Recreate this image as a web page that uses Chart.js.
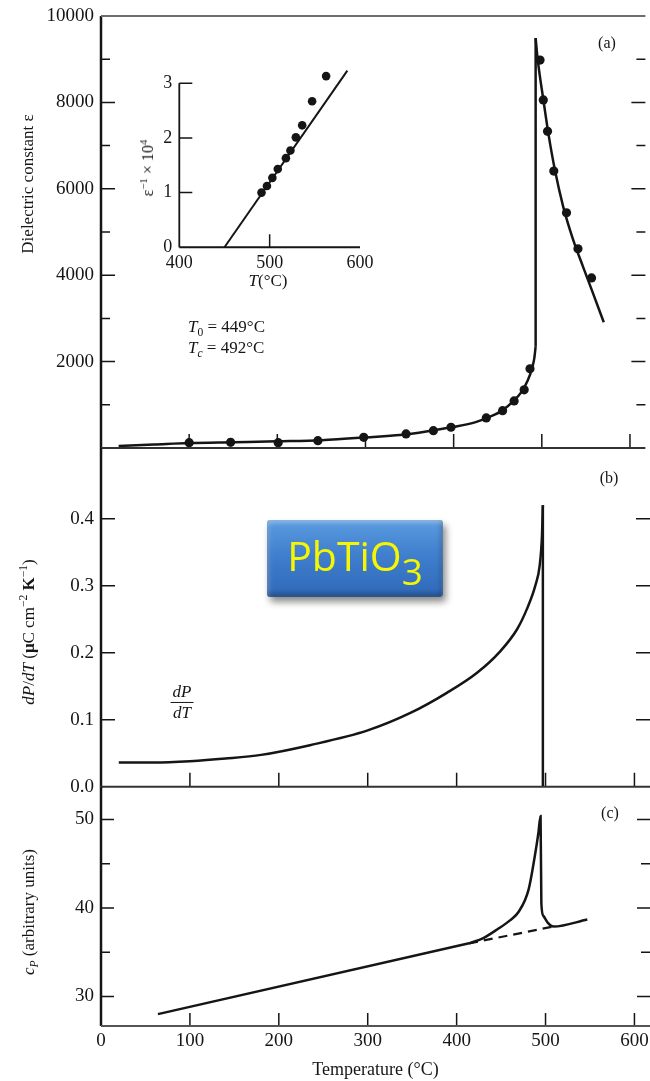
<!DOCTYPE html>
<html>
<head>
<meta charset="utf-8">
<script src="https://cdn.jsdelivr.net/npm/chart.js@4.4.2/dist/chart.umd.min.js"></script>
<style>
  html, body { margin: 0; padding: 0; background: #fff; overflow: hidden; }
  #wrap { position: relative; width: 650px; height: 1081px; font-family: "Liberation Serif", "DejaVu Serif", serif; color: #151515; }
  canvas { position: absolute; }
  .t { position: absolute; white-space: nowrap; line-height: 1; }
  .rot { transform: translate(-50%, -50%) rotate(-90deg); }
  .mid { transform: translate(-50%, -50%); }
  .t sub, .t sup { font-size: 0.68em; line-height: 0; }
  #badge {
    position: absolute; left: 267px; top: 520px; width: 176px; height: 77px; box-sizing: border-box;
    background: linear-gradient(#5c9ce0, #3f7fcd 45%, #2f69b8);
    border-radius: 3px;
    box-shadow: 3px 5px 7px rgba(0, 0, 0, 0.45), inset 0 3px 4px rgba(255, 255, 255, 0.3), inset 0 -4px 5px rgba(0, 0, 0, 0.25), inset 3px 0 4px rgba(255, 255, 255, 0.15), inset -3px 0 4px rgba(0, 0, 0, 0.15);
    color: #f6f600; font-family: "Open Sans", sans-serif; font-size: 41px;
    display: flex; align-items: center; justify-content: center; padding-bottom: 6px;
  }
  #badge span { line-height: 1; white-space: nowrap; }
  #badge sub { font-size: 0.9em; vertical-align: -0.38em; line-height: 0; }
  .frac { position: absolute; left: 182px; top: 702px; transform: translate(-50%, -50%); text-align: center; font-style: italic; font-size: 17px; line-height: 1.15; }
  .frac span { display: block; padding: 0 2px; }
  .frac span + span { border-top: 1.3px solid #151515; }
</style>
</head>
<body>
<div id="wrap">
  <canvas id="panelA" width="650" height="470" style="left:0;top:0"></canvas>
  <canvas id="panelB" width="650" height="380" style="left:0;top:430px"></canvas>
  <canvas id="panelC" width="650" height="311" style="left:0;top:770px"></canvas>
  <canvas id="inset" width="260" height="250" style="left:120px;top:50px"></canvas>

  <div class="t rot" style="left:27px;top:184px;font-size:17px">Dielectric constant ε</div>
  <div class="t rot" style="left:28px;top:632px;font-size:17px"><i>dP</i>/<i>dT</i> (<b>μ</b>C cm<sup>−2</sup> <b>K</b><sup>−1</sup>)</div>
  <div class="t rot" style="left:28px;top:912px;font-size:17px"><i>c</i><sub><i>P</i></sub> (arbitrary units)</div>

  <div class="t rot" style="left:148px;top:168px;font-size:16px">ε<sup>−1</sup> × 10<sup>4</sup></div>
  <div class="t mid" style="left:268px;top:280px;font-size:17px"><i>T</i>(°C)</div>

  <div class="t" style="left:188px;top:318px;font-size:17px"><i>T</i><sub>0</sub> = 449°C</div>
  <div class="t" style="left:188px;top:339px;font-size:17px"><i>T</i><sub><i>c</i></sub> = 492°C</div>

  <div class="t mid" style="left:607px;top:43px;font-size:16px">(a)</div>
  <div class="t mid" style="left:609px;top:478px;font-size:16px">(b)</div>
  <div class="t mid" style="left:610px;top:813px;font-size:16px">(c)</div>

  <div class="frac"><span>dP</span><span>dT</span></div>
  <div id="badge"><span>PbTiO<sub>3</sub></span></div>
</div>

<script>
const temperatureTicks = [0, 100, 200, 300, 400, 500, 600];

// (a) dielectric constant
const epsTicks = [1000, 2000, 3000, 4000, 5000, 6000, 7000, 8000, 9000, 10000];
const epsTickLabels = ['', '2000', '', '4000', '', '6000', '', '8000', '', '10000'];
const epsLowT = [20, 60, 100, 150, 200, 250, 300, 350, 400, 425, 440, 455, 468, 477, 484, 489, 491.5, 493];
const epsLowV = [46, 80, 115, 135, 155, 180, 245, 325, 490, 600, 715, 865, 1090, 1300, 1560, 1850, 2080, 2350];
const epsHighT = [493, 495.3, 501.7, 507.3, 514.7, 524.1, 535.4, 546.7, 557.9, 570.3];
const epsHighV = [9490, 9000, 8070, 7300, 6450, 5600, 4830, 4200, 3590, 2910];
const epsPointT = [100, 147, 201, 246, 298, 346, 377, 397, 437, 455.5, 468.6, 480, 486.6, 498, 501.7, 506.5, 513.6, 528, 541, 556.4];
const epsPointV = [123, 132, 123, 169, 248, 325, 401, 480, 696, 865, 1090, 1346, 1833, 8980, 8058, 7331, 6410, 5446, 4611, 3938];

// inset: inverse dielectric constant
const invTicks = [0, 1, 2, 3];
const invTempTicks = [400, 500, 600];
const invPointT = [491, 497, 503, 509, 518, 523, 529, 536, 547, 562.5];
const invPointV = [1.00, 1.12, 1.27, 1.43, 1.63, 1.77, 2.01, 2.23, 2.67, 3.13];
const invFitT = [450, 586];
const invFitV = [0, 3.23];

// (b) pyroelectric coefficient
const dpTicks = [0, 0.1, 0.2, 0.3, 0.4];
const dpT = [20, 60, 100, 140, 180, 235, 300, 348, 389, 423, 449, 468, 479, 488.5, 493.4, 496, 497];
const dpV = [0.036, 0.036, 0.038, 0.042, 0.0475, 0.062, 0.084, 0.110, 0.14, 0.17, 0.202, 0.235, 0.265, 0.30, 0.33, 0.375, 0.42];
const dpDropT = [497, 497];
const dpDropV = [0.42, 0];

// (c) specific heat
const cpTicks = [30, 35, 40, 45, 50];
const cpTickLabels = ['30', '', '40', '', '50'];
const cpBaseT = [64, 414];
const cpBaseV = [28.0, 36.0];
const cpDashT = [414, 509];
const cpDashV = [36.0, 37.9];
const cpPeakT = [414, 430, 446, 460, 470, 481, 488, 492, 494.4, 495.3, 497.6, 502.4, 509, 547];
const cpPeakV = [36.0, 36.6, 37.6, 38.6, 39.6, 42.1, 45.9, 48.5, 50.4, 40.5, 39.1, 38.35, 37.9, 38.7];

const serif = '"Liberation Serif", "DejaVu Serif", serif';
const ink = '#151515';
const points = (xs, ys) => xs.map((x, i) => ({x: x, y: ys[i]}));

const frame = {
  id: 'frame',
  afterDatasetsDraw(chart, args, opts) {
    const {ctx, chartArea: area, scales: {x, y}} = chart;
    const axisTop = y.getPixelForValue(opts.axisTop ?? y.max);
    const axisRight = x.getPixelForValue(opts.axisRight ?? x.max);
    ctx.save();
    ctx.strokeStyle = ink;
    ctx.lineWidth = 1.5;
    ctx.beginPath();
    x.ticks.forEach(t => {
      if (t.value <= x.min || t.value >= x.max) return;
      const px = x.getPixelForValue(t.value);
      ctx.moveTo(px, area.bottom);
      ctx.lineTo(px, area.bottom - opts.long);
    });
    y.ticks.forEach(t => {
      if (t.value <= y.min || t.value >= y.max) return;
      const py = y.getPixelForValue(t.value);
      const len = t.label === '' ? opts.short : opts.long;
      ctx.moveTo(area.left, py);
      ctx.lineTo(area.left + len, py);
      if (opts.right) {
        ctx.moveTo(area.right, py);
        ctx.lineTo(area.right - len, py);
      }
    });
    ctx.stroke();

    ctx.lineWidth = opts.axisWidth || 2;
    ctx.beginPath();
    ctx.moveTo(area.left, axisTop);
    ctx.lineTo(area.left, area.bottom);
    ctx.stroke();

    ctx.strokeStyle = opts.bottomColor || '#333';
    ctx.lineWidth = 2;
    ctx.beginPath();
    ctx.moveTo(area.left, area.bottom);
    ctx.lineTo(axisRight, area.bottom);
    ctx.stroke();
    if (opts.top) {
      ctx.strokeStyle = '#6e6e6e';
      ctx.beginPath();
      ctx.moveTo(area.left, area.top);
      ctx.lineTo(area.right, area.top);
      ctx.stroke();
    }
    ctx.restore();
  }
};

const xScale = (show) => ({
  type: 'linear',
  min: 0,
  max: 617.5,
  display: show,
  afterBuildTicks: s => { s.ticks = temperatureTicks.map(value => ({value: value})); },
  afterFit: s => {
    if (show) s.height = 55;
    s.paddingLeft = 0;
    s.paddingRight = 0;
  },
  grid: {display: false, drawTicks: false},
  border: {display: false},
  ticks: {font: {family: serif, size: 19}, color: ink, padding: 4, maxRotation: 0, callback: v => String(v)},
  title: {display: show, text: 'Temperature (°C)', font: {family: serif, size: 18}, color: ink, padding: {top: 4, bottom: 0}}
});

const yScale = (min, max, ticks, label, width, padding, size) => ({
  type: 'linear',
  min: min,
  max: max,
  afterBuildTicks: s => { s.ticks = ticks.map(value => ({value: value})); },
  afterFit: s => {
    s.width = width;
    s.paddingTop = 0;
    s.paddingBottom = 0;
  },
  grid: {display: false, drawTicks: false},
  border: {display: false},
  ticks: {font: {family: serif, size: size}, color: ink, padding: padding, callback: label}
});

const line = (data, extra) => Object.assign({
  data: data,
  showLine: true,
  borderColor: ink,
  borderWidth: 2.5,
  pointRadius: 0,
  tension: 0
}, extra);

const dots = (data, radius) => ({
  data: data,
  showLine: false,
  pointRadius: radius,
  pointBackgroundColor: ink,
  pointBorderWidth: 0
});

const baseOptions = (scales, padding, frameOpts) => ({
  responsive: false,
  animation: false,
  layout: {padding: padding},
  scales: scales,
  plugins: {legend: {display: false}, tooltip: {enabled: false}, frame: frameOpts}
});

new Chart(document.getElementById('panelA'), {
  type: 'scatter',
  data: {
    datasets: [
      line(points(epsLowT, epsLowV), {cubicInterpolationMode: 'monotone'}),
      line([{x: epsLowT.at(-1), y: epsLowV.at(-1)}, {x: epsHighT[0], y: epsHighV[0]}]),
      line(points(epsHighT, epsHighV), {cubicInterpolationMode: 'monotone'}),
      dots(points(epsPointT, epsPointV), 4.6)
    ]
  },
  options: baseOptions(
    {x: xScale(false), y: yScale(0, 10000, epsTicks, (v, i) => epsTickLabels[i], 101, 7, 19)},
    {top: 16, bottom: 22, left: 0, right: 0},
    {long: 14, short: 9, right: true, top: true, axisWidth: 2.5}
  ),
  plugins: [frame]
});

new Chart(document.getElementById('inset'), {
  type: 'scatter',
  data: {
    datasets: [
      line(points(invFitT, invFitV), {borderWidth: 2}),
      dots(points(invPointT, invPointV), 4.3)
    ]
  },
  options: baseOptions(
    {
      x: Object.assign(yScale(400, 600, invTempTicks, v => String(v), 0, 5, 18), {
        afterFit: s => { s.height = 52.7; s.paddingLeft = 0; s.paddingRight = 0; }
      }),
      y: yScale(0, 3.3, invTicks, v => String(v), 59.3, 7, 18)
    },
    {top: 16.8, bottom: 0, left: 0, right: 20},
    {long: 13, short: 13, right: false, top: false, axisTop: 3, axisRight: 600, axisWidth: 1.8, bottomColor: ink}
  ),
  plugins: [frame]
});

new Chart(document.getElementById('panelB'), {
  type: 'scatter',
  data: {
    datasets: [
      line(points(dpT, dpV), {cubicInterpolationMode: 'monotone'}),
      line(points(dpDropT, dpDropV))
    ]
  },
  options: baseOptions(
    {x: xScale(false), y: yScale(0, 0.5055, dpTicks, v => v.toFixed(1), 101, 7, 19)},
    {top: 18, bottom: 23.3, left: 0, right: 0},
    {long: 14, short: 9, right: true, top: false, axisWidth: 2.5}
  ),
  plugins: [frame]
});

new Chart(document.getElementById('panelC'), {
  type: 'scatter',
  data: {
    datasets: [
      line(points(cpBaseT, cpBaseV)),
      line(points(cpDashT, cpDashV), {borderDash: [9, 6], borderWidth: 2.2}),
      line(points(cpPeakT, cpPeakV), {cubicInterpolationMode: 'monotone'})
    ]
  },
  options: baseOptions(
    {x: xScale(true), y: yScale(26.66, 53.7, cpTicks, (v, i) => cpTickLabels[i], 101, 7, 19)},
    {top: 16.7, bottom: 0, left: 0, right: 0},
    {long: 13, short: 9, right: true, top: false, axisWidth: 2.5, bottomColor: '#555'}
  ),
  plugins: [frame]
});
</script>
</body>
</html>
